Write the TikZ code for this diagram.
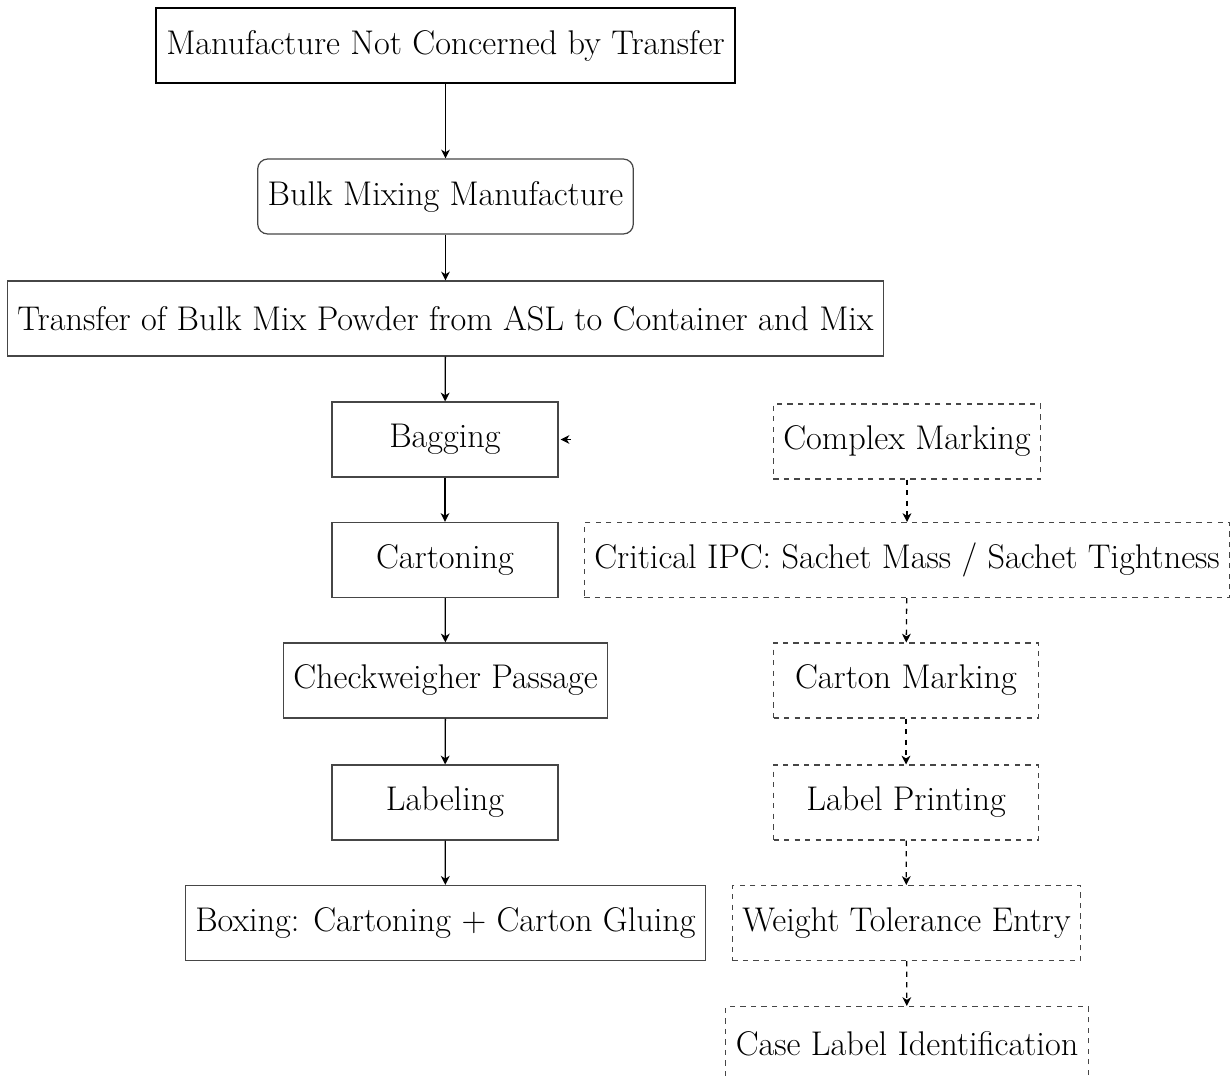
\documentclass[tikz,border=0pt]{standalone}
\usepackage{xcolor}
\usepackage{tikz}
\usetikzlibrary{arrows.meta, positioning}
\definecolor{BoxGray}{RGB}{70, 70, 70}

\tikzset{
    stepbox/.style={draw=BoxGray, line width=0.7pt, minimum height=1.5cm, inner xsep=0.2cm,
        font=\fontsize{19.5}{23}\selectfont},
    markbox/.style={stepbox, dashed, line width=0.6pt, minimum width=5.3cm},
    flow/.style={-{Stealth[length=5pt, width=5pt, inset=1.5pt]}, line width=0.75pt},
    dflow/.style={flow, dashed}
}

\begin{document}
\begin{tikzpicture}[x=0.02cm, y=-0.02cm]
    \useasboundingbox (0,0) rectangle (1230,1079);

    % Main line
    \node[stepbox, draw=black, line width=1pt] (top) at (445.5,45.5) {Manufacture Not Concerned by Transfer};
    \node[stepbox, rounded corners=0.2cm] (bulk) at (445.5,196.5) {Bulk Mixing Manufacture};
    \node[stepbox] (transfer) at (445.5,318.5) {Transfer of Bulk Mix Powder from ASL to Container and Mix};
    \node[stepbox, minimum width=4.52cm] (bagging) at (445,439.5) {Bagging};
    \node[stepbox, minimum width=4.52cm] (cartoning) at (445,560) {Cartoning};
    \node[stepbox] (checkweigh) at (445.5,680.5) {Checkweigher Passage};
    \node[stepbox, minimum width=4.52cm] (labeling) at (445,802.5) {Labeling};
    \node[stepbox] (boxing) at (445.5,923) {Boxing: Cartoning + Carton Gluing};

    % Marking steps
    \node[markbox] (complex) at (907,441.5) {Complex Marking};
    \node[markbox] (ipc) at (907,560) {Critical IPC: Sachet Mass / Sachet Tightness};
    \node[markbox] (cartonmark) at (906,680.5) {Carton Marking};
    \node[markbox] (labelprint) at (906,802.5) {Label Printing};
    \node[markbox] (weight) at (906.5,923) {Weight Tolerance Entry};
    \node[markbox] (caselabel) at (907,1044) {Case Label Identification};

    % Arrows
    \foreach \a/\b in {top/bulk, bulk/transfer, transfer/bagging, bagging/cartoning,
        cartoning/checkweigh, checkweigh/labeling, labeling/boxing} {
        \draw[flow] (\a) -- (\b);
    }
    \foreach \a/\b in {complex/ipc, ipc/cartonmark, cartonmark/labelprint,
        labelprint/weight, weight/caselabel} {
        \draw[dflow] (\a) -- (\b);
    }

    \coordinate (bagtip) at ([xshift=0.24cm]bagging.east);
    \draw[flow] (bagtip) -- ([xshift=0.04cm]bagging.east);
\end{tikzpicture}
\end{document}
